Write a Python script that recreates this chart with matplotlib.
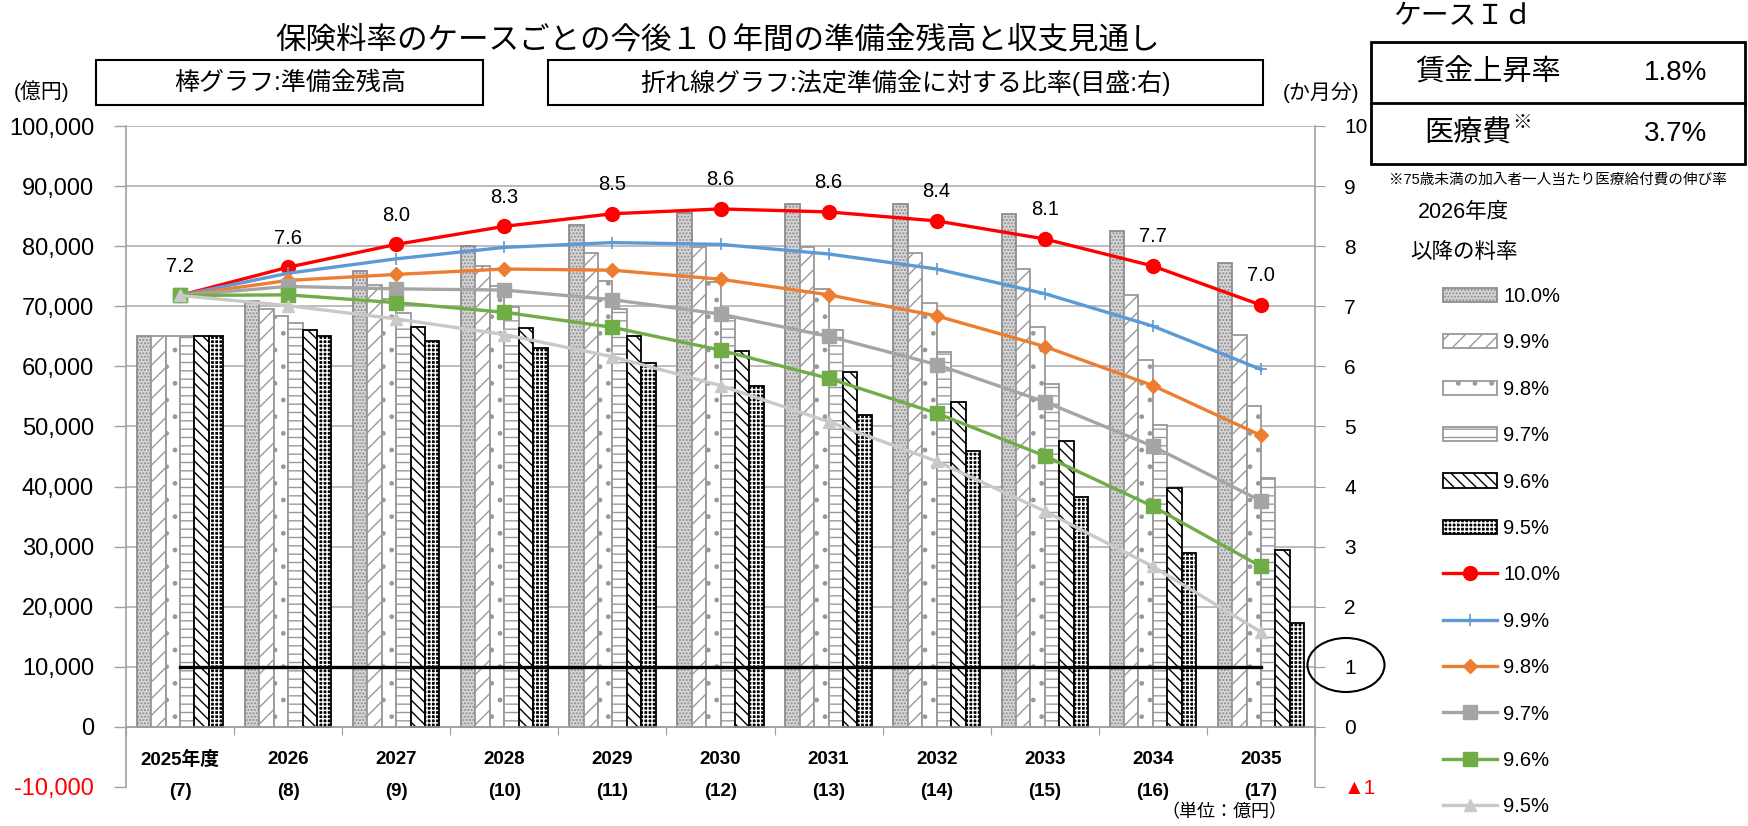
import numpy as np
import matplotlib.pyplot as plt
from matplotlib.patches import Rectangle, Ellipse
from matplotlib.transforms import blended_transform_factory

plt.rcParams['font.family'] = ['Liberation Sans', 'Noto Sans CJK JP']
plt.rcParams['hatch.linewidth'] = 1.0

# %% data
years = ['2025年度', '2026', '2027', '2028', '2029', '2030',
         '2031', '2032', '2033', '2034', '2035']
reiwa = ['(7)', '(8)', '(9)', '(10)', '(11)', '(12)',
         '(13)', '(14)', '(15)', '(16)', '(17)']
rates = ['10.0%', '9.9%', '9.8%', '9.7%', '9.6%', '9.5%']

# 準備金残高 (億円)
reserve_100 = [65000, 70800, 75800, 80100, 83500, 85500, 87100, 87100, 85400, 82500, 77200]
reserve_99 = [65000, 69600, 73500, 76700, 78800, 79900, 79900, 78800, 76200, 71800, 65300]
reserve_98 = [65000, 68400, 71200, 73300, 74200, 74100, 72900, 70600, 66500, 61100, 53400]
reserve_97 = [65000, 67200, 68900, 69900, 69500, 68000, 66000, 62400, 57100, 50300, 41400]
reserve_96 = [65000, 66100, 66600, 66400, 65000, 62600, 59000, 54100, 47600, 39700, 29400]
reserve_95 = [65000, 65000, 64300, 63000, 60500, 56800, 51900, 45900, 38200, 28900, 17300]

# 法定準備金に対する比率 (か月分)
months_100 = [7.18, 7.65, 8.03, 8.33, 8.54, 8.62, 8.57, 8.42, 8.12, 7.67, 7.02]
months_99 = [7.18, 7.55, 7.79, 7.98, 8.06, 8.03, 7.87, 7.62, 7.21, 6.67, 5.95]
months_98 = [7.18, 7.43, 7.53, 7.62, 7.60, 7.45, 7.19, 6.84, 6.33, 5.68, 4.85]
months_97 = [7.18, 7.33, 7.29, 7.27, 7.11, 6.87, 6.50, 6.03, 5.41, 4.67, 3.76]
months_96 = [7.18, 7.19, 7.06, 6.90, 6.65, 6.27, 5.80, 5.22, 4.51, 3.67, 2.67]
months_95 = [7.18, 7.01, 6.79, 6.53, 6.16, 5.68, 5.08, 4.42, 3.59, 2.67, 1.58]
red_labels = ['7.2', '7.6', '8.0', '8.3', '8.5', '8.6', '8.6', '8.4', '8.1', '7.7', '7.0']

reserves = [reserve_100, reserve_99, reserve_98, reserve_97, reserve_96, reserve_95]
months = [months_100, months_99, months_98, months_97, months_96, months_95]

# %% styles
bar_styles = [
    dict(facecolor='#d6d6d6', edgecolor='#8c8c8c', hatch='.....'),
    dict(facecolor='white', edgecolor='#999999', hatch='//'),
    dict(facecolor='white', edgecolor='#999999', hatch='.'),
    dict(facecolor='white', edgecolor='#999999', hatch='--'),
    dict(facecolor='white', edgecolor='black', hatch='\\\\\\'),
    dict(facecolor='black', edgecolor='white', hatch='++++'),  # checker look
]
line_styles = [
    dict(color='#ff0000', marker='o', markersize=10),
    dict(color='#5b9bd5', marker='+', markersize=9, markeredgewidth=1.2),
    dict(color='#ed7d31', marker='D', markersize=7),
    dict(color='#a5a5a5', marker='s', markersize=10),
    dict(color='#70ad47', marker='s', markersize=10),
    dict(color='#c9c9c9', marker='^', markersize=9),
]

W, H = 1748, 826
fig = plt.figure(figsize=(W / 100, H / 100), dpi=100)


def fx(px):
    return px / W


def fy(py):
    return 1 - py / H


ax = fig.add_axes([fx(126), fy(787), fx(1315) - fx(126), fy(126) - fy(787)])
ax2 = ax.twinx()

x = np.arange(len(years))
bw = 0.8 / 6
bar_handles = []
for i, (vals, st) in enumerate(zip(reserves, bar_styles)):
    pos = x + (i - 2.5) * bw
    if i == 5:
        b = ax.bar(pos, vals, bw, linewidth=0, zorder=2, **st)
        edge = ax.bar(pos, vals, bw, facecolor='none', edgecolor='black', linewidth=1.3, zorder=2)
        bar_handles.append((b, edge))
    else:
        b = ax.bar(pos, vals, bw, linewidth=1.3, zorder=2, **st)
        bar_handles.append(b)

ax.set_xlim(-0.5, 10.5)
ax.set_ylim(-10000, 100000)
yt = np.arange(-10000, 100001, 10000)
ax.set_yticks(yt)
ax.set_yticklabels([f'{v:,}' for v in yt], fontsize=17)
ax.get_yticklabels()[0].set_color('red')
ax.tick_params(axis='y', length=9, width=1, color='#a0a0a0', pad=14)
for v in yt[1:]:
    ax.axhline(v, color='#b0b0b0', linewidth=1.2, zorder=0)

ax.spines['top'].set_visible(False)
ax.spines['bottom'].set_position(('data', 0))
for s in ['left', 'right', 'bottom']:
    ax.spines[s].set_color('#a0a0a0')
    ax.spines[s].set_linewidth(1.2)
ax.set_xticks(np.arange(-0.5, 10.6, 1.0))
ax.set_xticklabels([])
ax.tick_params(axis='x', length=6, color='#a0a0a0', direction='out')

tr = blended_transform_factory(ax.transData, fig.transFigure)
for xi, yr, rw in zip(x, years, reiwa):
    ax.text(xi, fy(760), yr, transform=tr, ha='center', va='center',
            fontsize=13.5, fontweight='bold')
    ax.text(xi, fy(792), rw, transform=tr, ha='center', va='center',
            fontsize=13.5, fontweight='bold')

# right axis
ax2.set_ylim(-1, 10)
rt = np.arange(-1, 11)
ax2.set_yticks(rt)
ax2.set_yticklabels(['▲1'] + [str(v) for v in rt[1:]], fontsize=15)
ax2.get_yticklabels()[0].set_color('red')
ax2.tick_params(axis='y', length=7, color='#a0a0a0', pad=14)
for s in ax2.spines.values():
    s.set_visible(False)

lines = []
for i, (vals, st) in enumerate(zip(months, line_styles)):
    ln, = ax2.plot(x, vals, linewidth=2.4, zorder=3, **st)
    lines.append(ln)
for xi, yi, lab in zip(x, months_100, red_labels):
    ax2.annotate(lab, (xi, yi), xytext=(0, 21), textcoords='offset points',
                 ha='center', va='center', fontsize=14.5)

ax2.plot([x[0], x[-1]], [1, 1], color='black', linewidth=2.4, zorder=4)

# legend
fig.legend(bar_handles + lines, rates + rates, loc='upper left',
           bbox_to_anchor=(fx(1443), fy(287)), bbox_transform=fig.transFigure,
           frameon=False, fontsize=14.5, borderpad=0, borderaxespad=0,
           handlelength=2.7, handletextpad=0.3, labelspacing=1.36)
fig.text(fx(1463), fy(213), '2026年度', ha='center', va='center', fontsize=15.5)
fig.text(fx(1464), fy(253), '以降の料率', ha='center', va='center', fontsize=15.5)

# titles and boxes
fig.text(fx(718), fy(40), '保険料率のケースごとの今後１０年間の準備金残高と収支見通し',
         ha='center', va='center', fontsize=22)
fig.add_artist(Rectangle((fx(96), fy(105)), fx(483) - fx(96), fy(60) - fy(105),
                         transform=fig.transFigure, fill=False, linewidth=1.5, edgecolor='black'))
fig.text(fx(290), fy(83), '棒グラフ:準備金残高', ha='center', va='center', fontsize=18)
fig.add_artist(Rectangle((fx(548), fy(105)), fx(1263) - fx(548), fy(60) - fy(105),
                         transform=fig.transFigure, fill=False, linewidth=1.5, edgecolor='black'))
fig.text(fx(906), fy(83), '折れ線グラフ:法定準備金に対する比率(目盛:右)',
         ha='center', va='center', fontsize=18)
fig.text(fx(42), fy(91), '(億円)', ha='center', va='center', fontsize=15)
fig.text(fx(1321), fy(92), '(か月分)', ha='center', va='center', fontsize=15)
fig.text(fx(1224), fy(813), '（単位：億円）', ha='center', va='center', fontsize=13)

# case box
fig.text(fx(1393), fy(17), 'ケースＩｄ', ha='left', va='center', fontsize=20)
fig.add_artist(Rectangle((fx(1371), fy(164)), fx(1745) - fx(1371), fy(42) - fy(164),
                         transform=fig.transFigure, fill=False, linewidth=2, edgecolor='black'))
fig.add_artist(plt.Line2D([fx(1371), fx(1745)], [fy(103), fy(103)],
                          transform=fig.transFigure, color='black', linewidth=2))
fig.text(fx(1488), fy(73), '賃金上昇率', ha='center', va='center', fontsize=21)
fig.text(fx(1676), fy(73), '1.8%', ha='center', va='center', fontsize=20)
fig.text(fx(1512), fy(134), '医療費', ha='right', va='center', fontsize=21)
fig.text(fx(1512), fy(124), '※', ha='left', va='center', fontsize=14)
fig.text(fx(1676), fy(134), '3.7%', ha='center', va='center', fontsize=20)
fig.text(fx(1558), fy(180), '※75歳未満の加入者一人当たり医療給付費の伸び率',
         ha='center', va='center', fontsize=10.5)

fig.add_artist(Ellipse((fx(1346), fy(665)), fx(77), 54 / H, transform=fig.transFigure,
                       fill=False, linewidth=1.5, edgecolor='black'))

fig.savefig('out.png', dpi=100)
